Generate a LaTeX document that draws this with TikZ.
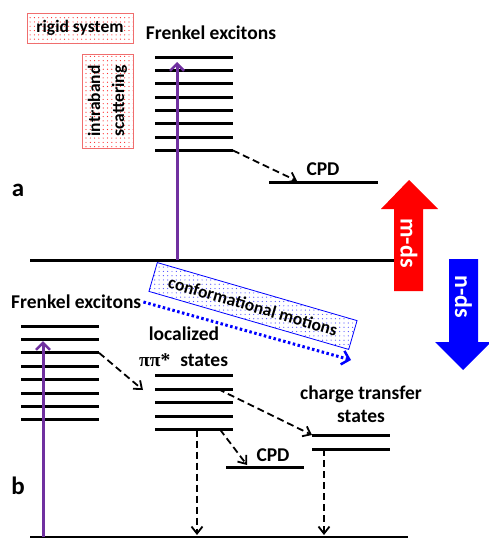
\documentclass[tikz,border=0pt]{standalone}
\usepackage{fontspec}
\setmainfont{Carlito}
\newfontfamily\greekfont{Liberation Serif}
\usetikzlibrary{arrows.meta,patterns.meta}
\definecolor{exc}{RGB}{112,48,160}
\definecolor{boxred}{RGB}{240,110,110}
\tikzset{
  level/.style={line width=3pt},
  ground/.style={line width=3pt},
  lbl/.style={font=\bfseries\fontsize{19.5}{24}\selectfont, inner sep=0pt},
  smalllbl/.style={font=\bfseries\fontsize{17.5}{23}\selectfont, inner sep=0pt},
  panel/.style={font=\bfseries\fontsize{25}{28}\selectfont, inner sep=0pt},
  relax/.style={line width=1.8pt, dash pattern=on 7pt off 4pt,
    -{Straight Barb[length=7pt,width=11pt,line width=1.8pt]}},
  pump/.style={exc, line width=3pt,
    -{Straight Barb[length=7pt,width=14pt,line width=2.5pt]}},
  redbox/.style={draw=boxred, line width=0.8pt,
    pattern={Dots[distance=4.3pt,radius=0.6pt]}, pattern color=red!85},
  bluebox/.style={draw=blue, line width=0.8pt,
    pattern={Dots[distance=4.3pt,radius=0.6pt]}, pattern color=blue!70},
  motion/.style={blue, line width=3pt, dash pattern=on 2.5pt off 2.5pt,
    -{Straight Barb[length=7pt,width=14pt,line width=2.5pt]}},
  bigtext/.style={font=\bfseries\fontsize{24}{26}\selectfont, text=white, inner sep=0pt, rotate=-90}
}
\begin{document}
\begin{tikzpicture}[x=1pt,y=-1pt]
\useasboundingbox (0,0) rectangle (488,538);

% ---------- panel a ----------
\node[panel] (pa) at (18,190) {a};
\node[smalllbl, redbox, minimum width=106pt, minimum height=30pt] (rigid) at (80,28) {rigid system};
\node[smalllbl, redbox, rotate=90, minimum width=94pt, minimum height=51pt, align=center] (intra) at (107.5,101) {intraband\\[1pt]scattering};
\node[lbl] (fa) at (211,33) {Frenkel excitons};

\foreach \i in {1,...,8} {
  \pgfmathsetmacro\yy{57+(\i-1)*13.35}
  \coordinate (aL\i) at (155,\yy);
  \coordinate (aR\i) at (233,\yy);
  \draw[level] (aL\i) -- (aR\i);
}
\coordinate (gaL) at (30,260);
\coordinate (gaR) at (395,260);
\draw[ground] (gaL) -- (gaR);
\coordinate (gaP) at (177,260);
\coordinate (aTop) at (177,62);
\draw[pump] (gaP) -- (aTop);

\coordinate (cpdaL) at (269,182);
\coordinate (cpdaR) at (378,182);
\draw[level] (cpdaL) -- (cpdaR);
\node[lbl] (cpda) at (323,169) {CPD};
\coordinate (cpdaIn) at (297,181);
\draw[relax] (aR8) -- (cpdaIn);

% red arrow
\path[fill=red] (394,291) -- (394,209) -- (381,209) -- (409,180) -- (438,209) -- (423,209) -- (423,291) -- cycle;
\node[bigtext] (mds) at (409,243) {m-ds};

% blue arrow
\path[fill=blue] (449,259) -- (449,342) -- (435,342) -- (463,370) -- (491,342) -- (478,342) -- (478,259) -- cycle;
\node[bigtext] (nds) at (463.5,297) {n-ds};

% ---------- conformational motions ----------
\node[smalllbl, bluebox, rotate=-16.2, minimum width=208pt, minimum height=30pt] (conf) at (253,306) {conformational motions};

% ---------- panel b ----------
\node[panel] (pb) at (18,486) {b};
\node[lbl, anchor=west] (fb) at (11,302) {Frenkel excitons};
\coordinate (motEnd) at (351,360);
\draw[motion] (fb.east) ++(2,0) -- (motEnd);

\foreach \i in {1,...,8} {
  \pgfmathsetmacro\yy{326+(\i-1)*13.4}
  \coordinate (bL\i) at (21,\yy);
  \coordinate (bR\i) at (99,\yy);
  \draw[level] (bL\i) -- (bR\i);
}
\coordinate (gbL) at (30,537);
\coordinate (gbR) at (408,537);
\draw[ground] (gbL) -- (gbR);
\coordinate (gbP) at (43,537);
\coordinate (bTop) at (43,341);
\draw[pump] (gbP) -- (bTop);

% localized pi-pi* states
\node[lbl] (loc) at (184,334) {localized};
\node[lbl, anchor=west] (pipi) at (139,360) {{\greekfont\bfseries ππ*}\hspace{10pt}states};
\foreach \i in {1,...,5} {
  \pgfmathsetmacro\yy{375.7+(\i-1)*13.45}
  \coordinate (lL\i) at (155,\yy);
  \coordinate (lR\i) at (233,\yy);
  \draw[level] (lL\i) -- (lR\i);
}
\coordinate (locIn) at (143,390);
\draw[relax] (bR3) -- (locIn);

% charge transfer states
\node[lbl, align=center] (ct) at (361,404) {charge transfer\\[-1pt]states};
\coordinate (ct1L) at (312,435);
\coordinate (ct1R) at (390,435);
\coordinate (ct2L) at (312,449);
\coordinate (ct2R) at (390,449);
\draw[level] (ct1L) -- (ct1R);
\draw[level] (ct2L) -- (ct2R);

% CPD of panel b
\coordinate (cpdbL) at (226,467);
\coordinate (cpdbR) at (304,467);
\draw[level] (cpdbL) -- (cpdbR);
\node[lbl] (cpdb) at (273,455) {CPD};

% relaxation pathways
\coordinate (l2s) at (218,389);
\draw[relax] (l2s) -- (ct1L);
\coordinate (l5s) at (220,429.5);
\coordinate (cpdbIn) at (247,465);
\draw[relax] (l5s) -- (cpdbIn);
\coordinate (l5d) at (197,429.5);
\coordinate (gbl) at (197,535);
\draw[relax] (l5d) -- (gbl);
\coordinate (ctd) at (324,449);
\coordinate (gbc) at (324,535);
\draw[relax] (ctd) -- (gbc);
\end{tikzpicture}
\end{document}
